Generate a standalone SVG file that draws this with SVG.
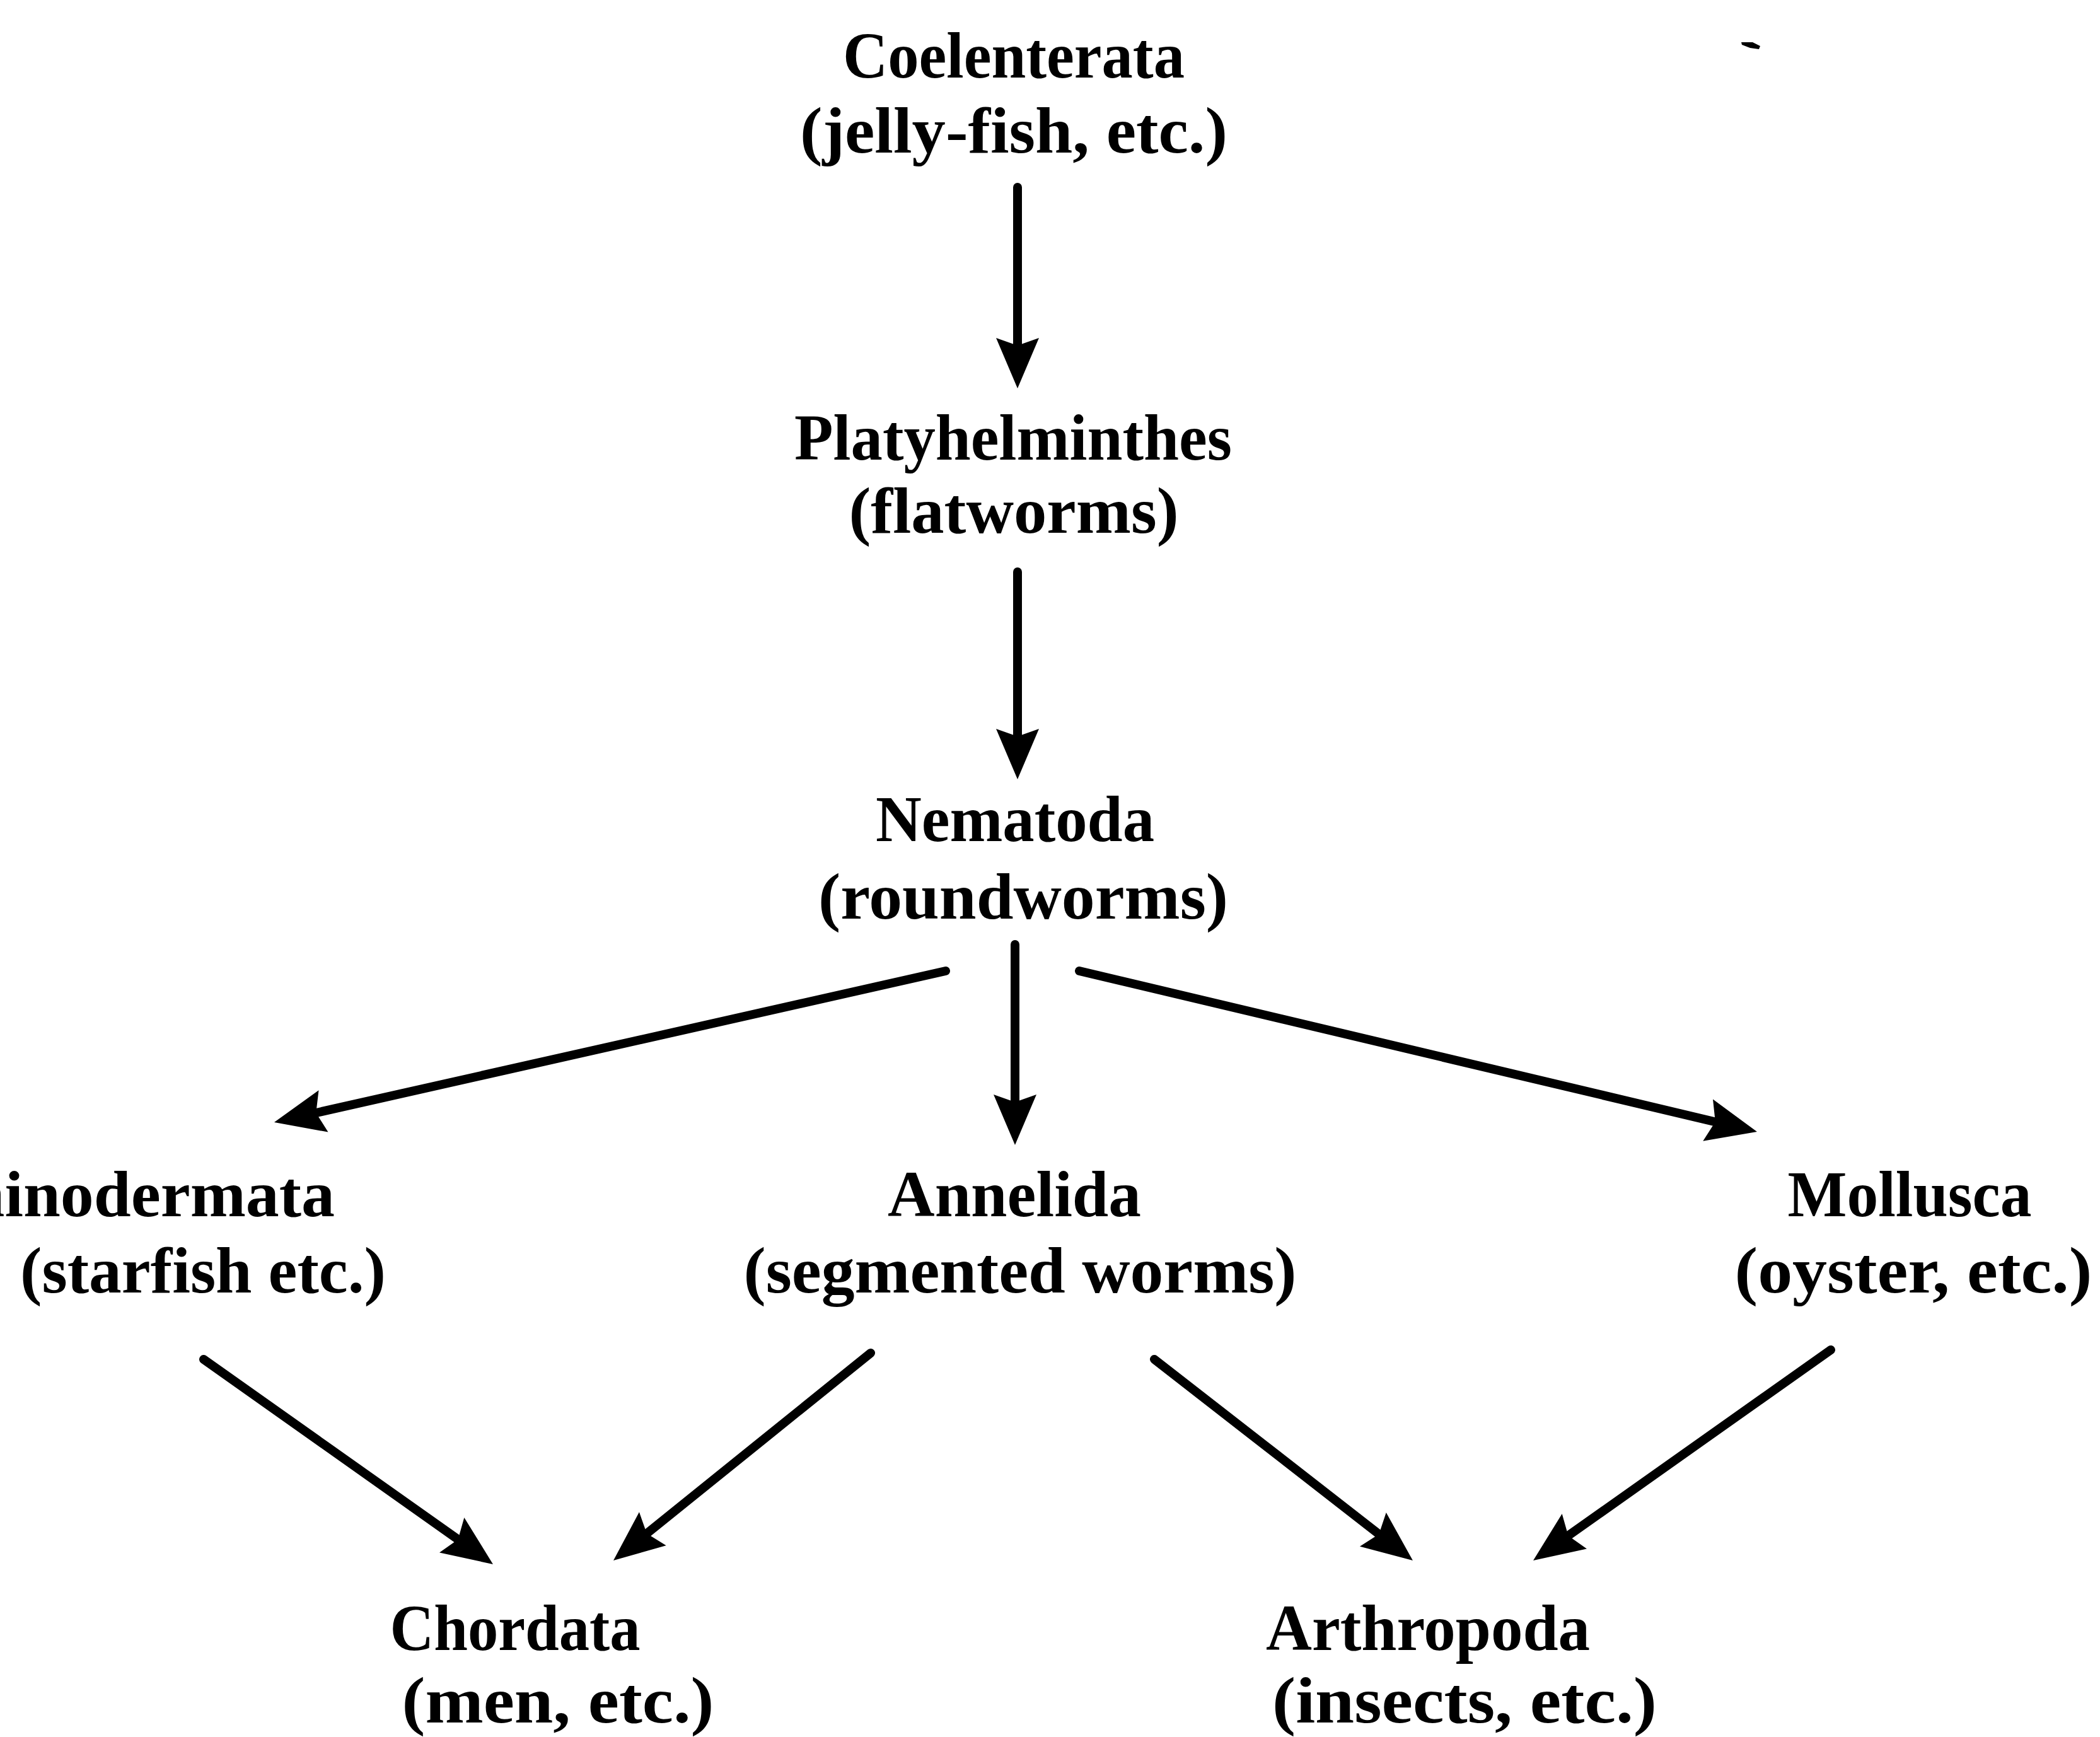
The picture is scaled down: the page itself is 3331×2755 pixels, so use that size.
<svg xmlns="http://www.w3.org/2000/svg" width="3331" height="2755" viewBox="0 0 3331 2755">
<style>
.t{font-family:"Liberation Serif","DejaVu Serif",serif;font-weight:bold;font-size:104px;fill:#000;text-anchor:middle}
.c{stroke:#000;stroke-width:14;fill:none;stroke-linecap:round}
</style>
<defs>
<marker id="ah" markerUnits="userSpaceOnUse" markerWidth="200" markerHeight="200" refX="0" refY="0" orient="auto" overflow="visible">
<path d="M60,0 L-20,-34 L-8,0 L-20,34 Z" fill="#000"/>
</marker>
</defs>
<rect width="3331" height="2755" fill="#fff"/>
<g id="connectors">
<path class="c" d="M1614,297 L1614,556" marker-end="url(#ah)"/>
<path class="c" d="M1614,907 L1614,1176" marker-end="url(#ah)"/>
<path class="c" d="M1500,1540 L493.5,1766.8" marker-end="url(#ah)"/>
<path class="c" d="M1610,1498 L1610,1756" marker-end="url(#ah)"/>
<path class="c" d="M1712,1540 L2728.6,1781.2" marker-end="url(#ah)"/>
<path class="c" d="M323,2156 L733,2446.3" marker-end="url(#ah)"/>
<path class="c" d="M1381,2146 L1019.7,2437.3" marker-end="url(#ah)"/>
<path class="c" d="M1831,2156 L2193.6,2438.2" marker-end="url(#ah)"/>
<path class="c" d="M2904,2141 L2481,2440.3" marker-end="url(#ah)"/>
</g>
<g id="coelenterata">
<text class="t" x="1608" y="123" textLength="542" lengthAdjust="spacingAndGlyphs">Coelenterata</text>
<text class="t" x="1608" y="242" textLength="678" lengthAdjust="spacingAndGlyphs">(jelly-fish, etc.)</text>
</g>
<g id="platyhelminthes">
<text class="t" x="1607" y="729" textLength="694" lengthAdjust="spacingAndGlyphs">Platyhelminthes</text>
<text class="t" x="1608" y="845" textLength="523" lengthAdjust="spacingAndGlyphs">(flatworms)</text>
</g>
<g id="nematoda">
<text class="t" x="1610" y="1334" textLength="442" lengthAdjust="spacingAndGlyphs">Nematoda</text>
<text class="t" x="1623" y="1457" textLength="650" lengthAdjust="spacingAndGlyphs">(roundworms)</text>
</g>
<g id="echinodermata">
<text class="t" x="531" y="1929" style="text-anchor:end" textLength="700" lengthAdjust="spacingAndGlyphs">Echinodermata</text>
<text class="t" x="322" y="2050" textLength="580" lengthAdjust="spacingAndGlyphs">(starfish etc.)</text>
</g>
<g id="annelida">
<text class="t" x="1609" y="1929" textLength="402" lengthAdjust="spacingAndGlyphs">Annelida</text>
<text class="t" x="1618" y="2050" textLength="877" lengthAdjust="spacingAndGlyphs">(segmented worms)</text>
</g>
<g id="mollusca">
<text class="t" x="3029" y="1929" textLength="387" lengthAdjust="spacingAndGlyphs">Mollusca</text>
<text class="t" x="3035" y="2050" textLength="567" lengthAdjust="spacingAndGlyphs">(oyster, etc.)</text>
</g>
<g id="chordata">
<text class="t" x="817" y="2617" textLength="397" lengthAdjust="spacingAndGlyphs">Chordata</text>
<text class="t" x="885" y="2732" textLength="495" lengthAdjust="spacingAndGlyphs">(men, etc.)</text>
</g>
<g id="arthropoda">
<text class="t" x="2265" y="2617" textLength="514" lengthAdjust="spacingAndGlyphs">Arthropoda</text>
<text class="t" x="2323" y="2732" textLength="610" lengthAdjust="spacingAndGlyphs">(insects, etc.)</text>
</g>
<path d="M2762,67 L2780,67 L2792,73 L2790,78 L2776,76 L2763,71 Z" fill="#000"/>
</svg>
